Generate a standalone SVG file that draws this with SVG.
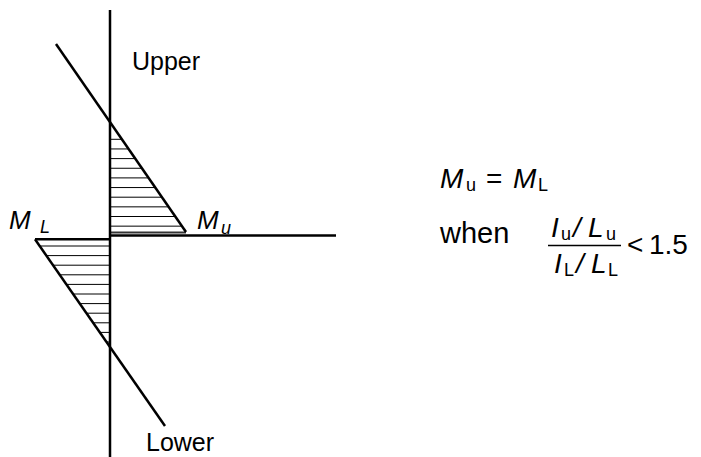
<svg xmlns="http://www.w3.org/2000/svg" width="701" height="457" viewBox="0 0 701 457">
<style>
.ln{stroke:#000;stroke-width:2.5;fill:none}
.h{stroke:#000;stroke-width:1;fill:none}
text{font-family:"Liberation Sans",Arial,sans-serif;fill:#000}
.it{font-style:italic}
</style>
<rect width="701" height="457" fill="#fff"/>
<g id="hatch-upper">
<path class="h" d="M110 139.3H121.9M110 148.95H128.6M110 158.6H135.2M110 168.25H141.9M110 177.9H148.6M110 187.55H155.3M110 197.2H161.9M110 206.85H168.6M110 216.5H175.3M110 226.15H182"/>
<path d="M110 232.5H186" stroke="#333" stroke-width="2"/>
</g>
<g id="hatch-lower">
<path class="h" d="M39.9 246H110M46.5 255.6H110M53.2 265.2H110M59.9 274.8H110M66.6 284.4H110M73.2 294H110M79.9 303.6H110M86.6 313.2H110M93.3 322.8H110M99.9 332.4H110M106.6 342H110"/>
</g>
<g id="connectors">
<path class="ln" d="M110 10V457"/>
<path class="ln" d="M56 44L186 232"/>
<path class="ln" d="M110 235.5H336"/>
<path class="ln" d="M35 239.3H110"/>
<path class="ln" d="M35 239.3L165 426"/>
</g>
<g id="label-upper"><text x="132" y="70" font-size="25">Upper</text></g>
<g id="label-lower"><text x="146" y="451" font-size="25">Lower</text></g>
<g id="label-mu"><text x="197" y="229" font-size="26" class="it">M</text><text x="221" y="234" font-size="18" class="it">u</text></g>
<g id="label-ml"><text x="9" y="229" font-size="26" class="it">M</text><text x="40" y="233" font-size="18" class="it">L</text></g>
<g id="formula">
<text x="440" y="188" font-size="28" class="it">M</text>
<text x="466" y="191" font-size="18">u</text>
<text x="486" y="188" font-size="28">=</text>
<text x="513" y="188" font-size="28" class="it">M</text>
<text x="538" y="191" font-size="18">L</text>
<text x="440" y="243" font-size="29">when</text>
<text x="551" y="237" font-size="28" class="it">I</text>
<text x="561" y="240" font-size="18">u</text>
<text x="573" y="237" font-size="28" class="it">/</text>
<text x="588" y="237" font-size="28" class="it">L</text>
<text x="606" y="240" font-size="18">u</text>
<path d="M548 245.5H621" stroke="#000" stroke-width="1.5"/>
<text x="554" y="273" font-size="28" class="it">I</text>
<text x="564" y="276" font-size="18">L</text>
<text x="576" y="273" font-size="28" class="it">/</text>
<text x="591" y="273" font-size="28" class="it">L</text>
<text x="608" y="276" font-size="18">L</text>
<text x="627" y="254" font-size="28">&lt;</text>
<text x="649" y="254" font-size="28">1.5</text>
</g>
</svg>
